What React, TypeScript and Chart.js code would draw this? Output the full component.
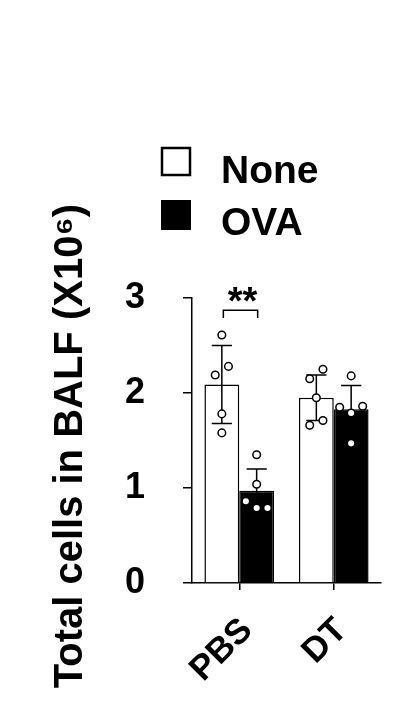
import React, { useEffect, useRef } from 'react';
import { Chart, registerables } from 'chart.js';

Chart.register(...registerables);

// ---- data ----
const categories = ['PBS', 'DT'];
const seriesNames = ['None', 'OVA'];
const noneMeans = [2.09, 1.95];
const ovaMeans = [0.97, 1.83];
const noneSD = [0.41, 0.24];
const ovaSD = [0.23, 0.25];
const nonePoints = [
  [2.61, 2.28, 2.19, 1.78, 1.58],
  [2.15, 2.25, 1.95, 1.66, 1.71],
];
const ovaPoints = [
  [1.35, 1.04, 0.86, 0.79, 0.79],
  [2.18, 1.85, 1.86, 1.79, 1.47],
];
// horizontal jitter of each point, in bar widths
const noneJitter = [
  [0, 0.19, -0.19, 0, 0],
  [-0.19, 0.19, 0, -0.19, 0.19],
];
const ovaJitter = [
  [0, 0, -0.31, 0, 0.31],
  [0, -0.33, 0.33, 0, 0],
];
const yTickLabels = ['0', '1', '2', '3'];
const yTitle = 'Total cells in BALF (X10\u2076) ';
const sigLabel = '**';
const sigCategory = 0;
const sigBracketTop = 2.87;
const sigBracketLeg = 2.79;

const FONT = "'Liberation Sans', Arial, Helvetica, sans-serif";
const CAT_PCT = 0.737;

const errorBarPlugin = {
  id: 'errorBars',
  afterDatasetsDraw(chart: any) {
    const ctx = chart.ctx;
    const y = chart.scales.y;
    const sets: [number[], number[], number[][], number[][]][] = [
      [noneMeans, noneSD, nonePoints, noneJitter],
      [ovaMeans, ovaSD, ovaPoints, ovaJitter],
    ];
    ctx.save();
    ctx.strokeStyle = '#000';
    ctx.lineWidth = 1.5;
    // error bars
    sets.forEach(([m, sd], di) => {
      const meta = chart.getDatasetMeta(di);
      meta.data.forEach((bar: any, i: number) => {
        const x = bar.x;
        const top = y.getPixelForValue(m[i] + sd[i]);
        const bot = y.getPixelForValue(m[i] - sd[i]);
        const cap = bar.width * 0.29;
        ctx.beginPath();
        ctx.moveTo(x, top);
        ctx.lineTo(x, bot);
        ctx.moveTo(x - cap, top);
        ctx.lineTo(x + cap, top);
        ctx.moveTo(x - cap, bot);
        ctx.lineTo(x + cap, bot);
        ctx.stroke();
      });
    });
    // individual points
    ctx.fillStyle = '#fff';
    sets.forEach(([, , pts, jit], di) => {
      const meta = chart.getDatasetMeta(di);
      meta.data.forEach((bar: any, i: number) => {
        pts[i].forEach((v, k) => {
          const px = bar.x + jit[i][k] * bar.width;
          const py = y.getPixelForValue(v);
          ctx.beginPath();
          ctx.arc(px, py, 3.8, 0, Math.PI * 2);
          ctx.fill();
          ctx.stroke();
        });
      });
    });
    ctx.restore();
  },
};

const annotationPlugin = {
  id: 'annot',
  afterDraw(chart: any) {
    const ctx = chart.ctx;
    const y = chart.scales.y;
    const b0 = chart.getDatasetMeta(0).data[sigCategory];
    const b1 = chart.getDatasetMeta(1).data[sigCategory];
    ctx.save();
    // significance bracket
    const x0 = b0.x + 1.5;
    const x1 = b1.x + 1;
    const yt = y.getPixelForValue(sigBracketTop);
    const yl = y.getPixelForValue(sigBracketLeg);
    ctx.strokeStyle = '#000';
    ctx.lineWidth = 1.5;
    ctx.beginPath();
    ctx.moveTo(x0, yl);
    ctx.lineTo(x0, yt);
    ctx.lineTo(x1, yt);
    ctx.lineTo(x1, yl);
    ctx.stroke();
    ctx.fillStyle = '#000';
    ctx.font = `bold 38px ${FONT}`;
    ctx.textAlign = 'center';
    ctx.textBaseline = 'alphabetic';
    ctx.fillText(sigLabel, (x0 + x1) / 2 + 2, yt + 4);

    // legend
    ctx.lineWidth = 2.5;
    ctx.strokeStyle = '#000';
    ctx.fillStyle = '#fff';
    ctx.fillRect(162, 148, 28, 27);
    ctx.strokeRect(162, 148, 28, 27);
    ctx.fillStyle = '#000';
    ctx.fillRect(161, 200, 30, 30);
    ctx.font = `bold 39px ${FONT}`;
    ctx.textAlign = 'left';
    ctx.fillText(seriesNames[0], 221, 183);
    ctx.fillText(seriesNames[1], 221, 235);
    ctx.restore();
  },
};

export default function App() {
  const ref = useRef<HTMLCanvasElement | null>(null);
  useEffect(() => {
    if (!ref.current) return;
    const chart = new Chart(ref.current, {
      type: 'bar',
      data: {
        labels: categories,
        datasets: [
          {
            label: seriesNames[0],
            data: noneMeans,
            backgroundColor: '#fff',
            borderColor: '#000',
            borderWidth: 1.5,
            categoryPercentage: CAT_PCT,
            barPercentage: 1,
          } as any,
          {
            label: seriesNames[1],
            data: ovaMeans,
            backgroundColor: '#000',
            borderColor: '#000',
            borderWidth: 1.5,
            categoryPercentage: CAT_PCT,
            barPercentage: 1,
          } as any,
        ],
      },
      options: {
        responsive: false,
        animation: false,
        events: [],
        layout: { padding: { top: 298, right: 13, left: 0, bottom: 0 } },
        plugins: {
          legend: { display: false },
          tooltip: { enabled: false },
          title: { display: false },
        },
        scales: {
          x: {
            type: 'category',
            offset: true,
            afterFit: (s: any) => {
              s.height = 129;
            },
            grid: {
              display: true,
              drawOnChartArea: false,
              drawTicks: true,
              tickLength: 7,
              offset: false,
              color: '#000',
              lineWidth: 1.5,
            },
            border: { display: true, color: '#000', width: 1.5 },
            ticks: {
              autoSkip: false,
              minRotation: 45,
              maxRotation: 45,
              padding: 20,
              labelOffset: 8,
              color: '#000',
              font: { family: FONT, size: 35, weight: 'bold' },
            },
          },
          y: {
            type: 'linear',
            min: 0,
            max: 3,
            afterFit: (s: any) => {
              s.width = 192;
            },
            grid: {
              display: true,
              drawOnChartArea: false,
              drawTicks: true,
              tickLength: 9,
              color: '#000',
              lineWidth: 1.5,
            },
            border: { display: true, color: '#000', width: 1.5 },
            ticks: {
              stepSize: 1,
              padding: 38,
              color: '#000',
              font: { family: FONT, size: 36, weight: 'bold' },
              callback: (v: any) => yTickLabels[Number(v)] ?? '',
            },
            title: {
              display: true,
              text: yTitle,
              color: '#000',
              padding: { top: 47, bottom: 0 },
              font: { family: FONT, size: 40, weight: 'bold' },
            },
          },
        } as any,
      },
      plugins: [errorBarPlugin, annotationPlugin],
    } as any);
    return () => chart.destroy();
  }, []);

  return (
    <div style={{ position: 'absolute', left: 0, top: 0, width: 394, height: 712, background: '#fff' }}>
      <canvas ref={ref} width={394} height={712} style={{ display: 'block', width: 394, height: 712 }} />
    </div>
  );
}
